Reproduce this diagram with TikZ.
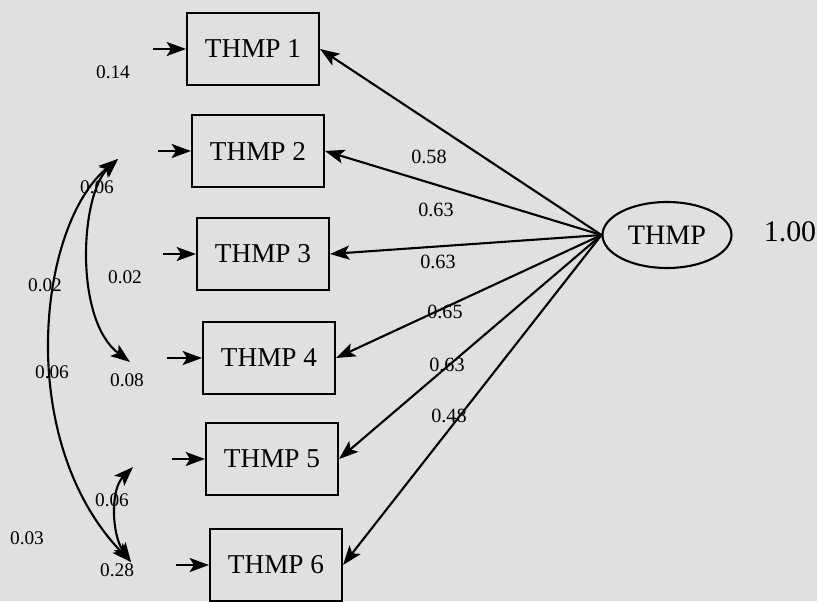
\documentclass[tikz,border=0pt]{standalone}
\usepackage{fontspec}
\setmainfont{Liberation Serif}
\usetikzlibrary{arrows.meta,shapes.geometric}
\begin{document}
\begin{tikzpicture}[x=0.02cm,y=-0.02cm,
  every node/.style={inner sep=0pt},
  obs/.style={draw,line width=1.2pt,minimum width=2.64cm,minimum height=1.44cm,font=\fontsize{15.5}{18}\selectfont},
  lat/.style={draw,ellipse,line width=1.2pt,minimum width=2.58cm,minimum height=1.32cm,font=\fontsize{16}{18}\selectfont},
  arr/.style={line width=1.2pt,-{Stealth[length=11pt,width=8pt,inset=2.5pt]}},
  darr/.style={line width=1.2pt,{Stealth[length=11pt,width=8pt,inset=2.5pt]}-{Stealth[length=11pt,width=8pt,inset=2.5pt]}},
  plab/.style={font=\fontsize{11.5}{13}\selectfont},
  elab/.style={font=\fontsize{11}{12}\selectfont}]
\fill[gray!24] (0,0) rectangle (817,601);
\useasboundingbox (0,0) rectangle (817,601);
% observed boxes
\node[obs] (b1) at (253,49) {THMP 1};
\node[obs] (b2) at (258,151) {THMP 2};
\node[obs] (b3) at (263,254) {THMP 3};
\node[obs] (b4) at (269,358) {THMP 4};
\node[obs] (b5) at (272,459) {THMP 5};
\node[obs] (b6) at (276,565) {THMP 6};
% latent
\node[lat] (T) at (667,235) {THMP};
\node[font=\fontsize{17}{19}\selectfont] (v) at (790,232) {1.00};
% loadings
\foreach \i in {1,...,6} \draw[arr] (T.west) -- (b\i.east);
\node[plab] (l1) at (429,157) {0.58};
\node[plab] (l2) at (436,210) {0.63};
\node[plab] (l3) at (438,262) {0.63};
\node[plab] (l4) at (445,312) {0.65};
\node[plab] (l5) at (447,365) {0.63};
\node[plab] (l6) at (449,416) {0.48};
% error inputs
\coordinate (a1) at (153,49);
\coordinate (a2) at (158,151);
\coordinate (a3) at (163,254);
\coordinate (a4) at (167,358);
\coordinate (a5) at (172,459);
\coordinate (a6) at (176,565);
\foreach \i in {1,...,6} \draw[arr] (a\i) -- (b\i.west);
% error variances
\node[elab] (v1) at (113,72) {0.14};
\node[elab] (v2) at (97,187) {0.06};
\node[elab] (v3) at (125,277) {0.02};
\node[elab] (v4) at (127,380) {0.08};
\node[elab] (v5) at (112,500) {0.06};
\node[elab] (v6) at (117,570) {0.28};
% covariance end points
\coordinate (e2) at (118,159);
\coordinate (e4) at (130,362);
\coordinate (e5) at (133,467);
\coordinate (e6) at (131,562);
\draw[darr] (e2) .. controls (80,195) and (74,320) .. (e4);
\draw[darr] (e2) .. controls (38,225) and (14,440) .. (e6);
\draw[darr] (e6) .. controls (112,535) and (110,490) .. (e5);
\node[elab] (c1) at (45,285) {0.02};
\node[elab] (c2) at (52,372) {0.06};
\node[elab] (c3) at (27,538) {0.03};
\end{tikzpicture}
\end{document}
